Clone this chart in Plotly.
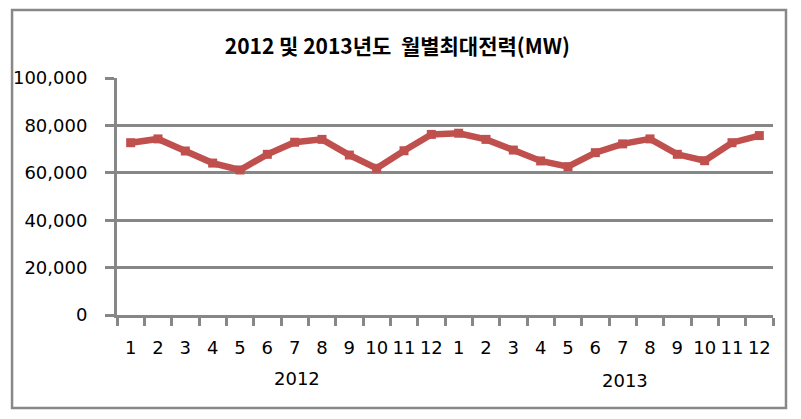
import plotly.graph_objects as go

months = ["1", "2", "3", "4", "5", "6", "7", "8", "9", "10", "11", "12"]
years = ["2012", "2013"]
peak_2012 = [72700, 74300, 69200, 64100, 61200, 67800, 72900, 74100, 67500, 61900, 69300, 76200]
peak_2013 = [76700, 74100, 69600, 65000, 62600, 68500, 72200, 74300, 67800, 65100, 72700, 75700]
y_ticks = [0, 20000, 40000, 60000, 80000, 100000]

values = peak_2012 + peak_2013
labels = months + months
xs = list(range(len(values)))

RED = "#C0504D"
GRAY = "#878787"
FONT = "DejaVu Sans"

fig = go.Figure()
fig.add_trace(go.Scatter(
    x=xs, y=values, mode="lines+markers",
    line=dict(color=RED, width=6.5),
    marker=dict(symbol="square", size=9, color=RED),
    showlegend=False, hoverinfo="skip",
))

fig.update_layout(
    width=801, height=419,
    margin=dict(l=117, r=28, t=78, b=104),
    paper_bgcolor="white", plot_bgcolor="white",
    title=dict(
        text="<b>2012 및 2013년도  월별최대전력(MW)</b>",
        x=0.496, xanchor="center", y=0.888, yanchor="middle",
        font=dict(family="Noto Sans CJK KR", size=21, color="black"),
    ),
    xaxis=dict(
        range=[-0.5, len(values) - 0.5],
        tickmode="array", tickvals=xs, ticktext=labels,
        ticks="", showgrid=False, zeroline=False,
        showline=True, linecolor=GRAY, linewidth=3,
        tickfont=dict(family=FONT, size=18, color="black"),
        ticklabelstandoff=14,
        minor=dict(
            tickmode="array",
            tickvals=[i - 0.5 for i in range(len(values) + 1)],
            ticks="outside", ticklen=8, tickwidth=3, tickcolor=GRAY,
            showgrid=False,
        ),
    ),
    yaxis=dict(
        range=[0, 100000],
        tickmode="array", tickvals=y_ticks, tickformat=",",
        ticks="outside", ticklen=9, tickwidth=3, tickcolor=GRAY,
        showgrid=True, gridcolor=GRAY, gridwidth=3,
        zeroline=False,
        showline=True, linecolor=GRAY, linewidth=3,
        tickfont=dict(family=FONT, size=18, color="black"),
        ticklabelstandoff=14,
    ),
)

year_pos = [(6.1, -0.266), (18.1, -0.278)]
for yr, (xp, yp) in zip(years, year_pos):
    fig.add_annotation(
        x=xp, xref="x", y=yp, yref="paper", text=yr, showarrow=False,
        font=dict(family=FONT, size=18, color="black"),
        xanchor="center", yanchor="middle",
    )

fig.add_shape(
    type="rect", xref="paper", yref="paper",
    x0=-0.160, x1=1.0198, y0=-0.392, y1=1.287,
    line=dict(color="#888888", width=2.5), fillcolor="rgba(0,0,0,0)",
    layer="below",
)

fig.write_html("out.html")
